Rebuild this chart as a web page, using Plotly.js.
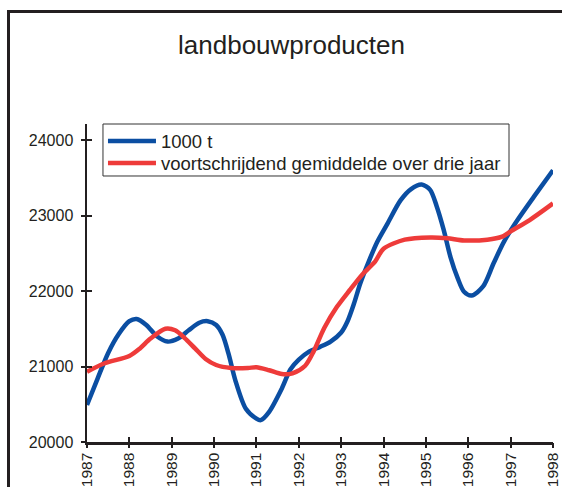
<!DOCTYPE html>
<html>
<head>
<meta charset="utf-8">
<script src="https://cdn.plot.ly/plotly-3.0.1.min.js"></script>
<style>
html,body{margin:0;padding:0;background:#fff;overflow:hidden;}
#frame{position:absolute;left:7px;top:10px;width:700px;height:600px;border-left:3px solid #231f20;border-top:3px solid #231f20;pointer-events:none;z-index:5;}
#chart{position:absolute;left:0;top:0;width:562px;height:487px;}
</style>
</head>
<body>
<div id="chart"></div>
<div id="frame"></div>
<script>
// 1000 t
const blueX = [1987.00,1987.25,1987.50,1987.75,1988.00,1988.17,1988.40,1988.65,1988.90,1989.15,1989.40,1989.65,1989.85,1990.05,1990.20,1990.35,1990.50,1990.75,1991.00,1991.10,1991.30,1991.60,1991.80,1992.00,1992.25,1992.50,1992.75,1993.00,1993.15,1993.30,1993.45,1993.65,1993.85,1994.10,1994.40,1994.65,1994.90,1995.10,1995.25,1995.42,1995.58,1995.75,1995.90,1996.08,1996.35,1996.60,1996.85,1997.15,1997.55,1998.00];
const blueY = [20490,20840,21180,21430,21600,21630,21550,21400,21330,21370,21480,21580,21600,21550,21420,21150,20820,20440,20310,20290,20400,20710,20960,21090,21200,21260,21330,21450,21600,21830,22100,22390,22650,22900,23200,23350,23410,23340,23130,22810,22450,22170,21990,21940,22060,22370,22660,22930,23250,23600];
// voortschrijdend gemiddelde over drie jaar
const redX = [1987.00,1987.40,1988.00,1988.25,1988.50,1988.85,1989.08,1989.30,1989.55,1989.80,1990.05,1990.40,1990.80,1991.00,1991.30,1991.60,1991.85,1992.15,1992.35,1992.60,1992.90,1993.20,1993.50,1993.80,1994.00,1994.50,1995.10,1995.50,1995.90,1996.45,1996.80,1997.00,1997.45,1998.00];
const redY = [20930,21040,21140,21240,21370,21500,21480,21380,21240,21100,21020,20980,20980,20990,20950,20900,20910,21010,21200,21510,21790,22010,22220,22390,22560,22680,22710,22700,22670,22680,22720,22790,22940,23160];
const yearTicks = [1987,1988,1989,1990,1991,1992,1993,1994,1995,1996,1997,1998];
const yTicks = [20000,21000,22000,23000,24000];
const seriesNames = ['1000 t','voortschrijdend gemiddelde over drie jaar'];
const titleText = 'landbouwproducten';

const ink = '#231f20';
const font = 'Liberation Sans, Arial, Helvetica, sans-serif';
const xr = [1987, 1998], yr = [20000, 24212];

const traces = [
  {x: blueX, y: blueY, name: seriesNames[0], type: 'scatter', mode: 'lines', legend: 'legend',
   line: {color: '#0b4ea2', width: 4.5, shape: 'spline', smoothing: 0.8}},
  {x: redX, y: redY, name: seriesNames[1], type: 'scatter', mode: 'lines', legend: 'legend2',
   line: {color: '#ee3b3a', width: 4.5, shape: 'spline', smoothing: 0.8}},
  {x: [], y: [], xaxis: 'x2', yaxis: 'y2', type: 'scatter', mode: 'lines', showlegend: false, hoverinfo: 'skip'}
];

const legFont = {size: 18.5, color: ink, family: font};
const legBase = {xanchor: 'left', yanchor: 'top', bgcolor: 'rgba(0,0,0,0)', borderwidth: 0,
                 font: legFont, itemwidth: 48};

const layout = {
  width: 562, height: 487,
  margin: {l: 87, r: 9, t: 124, b: 45, pad: 0},
  paper_bgcolor: '#fff', plot_bgcolor: 'rgba(0,0,0,0)',
  font: {family: font, color: ink},
  title: {text: titleText, font: {size: 26, color: ink, family: font},
          x: 0.5187, xanchor: 'center', xref: 'container', y: 0.908, yanchor: 'middle', yref: 'container'},
  showlegend: true,
  legend: Object.assign({x: 0.0343, y: 1.005}, legBase),
  legend2: Object.assign({x: 0.0343, y: 0.9358}, legBase),
  shapes: [{type: 'rect', xref: 'paper', yref: 'paper', x0: 0.0343, x1: 0.9056, y0: 0.8365, y1: 1.0,
            line: {color: '#333', width: 1}, fillcolor: '#fff', layer: 'above'}],
  xaxis: {range: xr, tickvals: yearTicks, ticktext: yearTicks.map(String), tickangle: -90,
          ticks: 'inside', ticklen: 5, tickwidth: 2, tickcolor: ink, ticklabelstandoff: 2,
          showline: true, linecolor: ink, linewidth: 2.5, showgrid: false, zeroline: false,
          tickfont: {size: 15.5, color: ink, family: font}, fixedrange: true},
  yaxis: {range: yr, tickvals: yTicks, ticktext: yTicks.map(String),
          ticks: 'inside', ticklen: 5, tickwidth: 2, tickcolor: ink, ticklabelstandoff: 8,
          showline: true, linecolor: ink, linewidth: 2.5, showgrid: false, zeroline: false,
          tickfont: {size: 16, color: ink, family: font}, fixedrange: true},
  xaxis2: {overlaying: 'x', anchor: 'y2', range: xr, tickvals: yearTicks, ticks: 'outside', ticklen: 5, tickwidth: 2,
           tickcolor: ink, showticklabels: false, showline: false, showgrid: false, zeroline: false, fixedrange: true},
  yaxis2: {overlaying: 'y', anchor: 'x2', side: 'left', range: yr, tickvals: yTicks, ticks: 'outside', ticklen: 5, tickwidth: 2,
           tickcolor: ink, showticklabels: false, showline: false, showgrid: false, zeroline: false, fixedrange: true}
};

Plotly.newPlot('chart', traces, layout, {displayModeBar: false, staticPlot: true});
</script>
</body>
</html>
